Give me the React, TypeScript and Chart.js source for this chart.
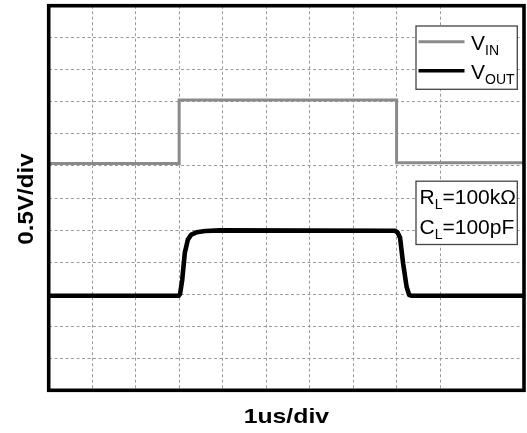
import React, { useEffect, useRef } from 'react';
import { Chart, registerables } from 'chart.js';

Chart.register(...registerables);

// Axis extents in divisions (x: 1us/div, y: 0.5V/div)
const X_MAX = 10.93;
const Y_MAX = 12;

// V_IN trace (divisions)
const vinX = [0, 3.0, 3.0, 8.0, 8.0, X_MAX];
const vinY = [7.08, 7.08, 9.06, 9.06, 7.1, 7.1];

// V_OUT trace (divisions)
const voutX = [0, 2.99, 3.02, 3.07, 3.13, 3.2, 3.28, 3.4, 3.6, 3.94, 7.96, 8.02, 8.08, 8.15, 8.23, 8.29, 8.35, X_MAX];
const voutY = [2.95, 2.95, 3.0, 3.44, 4.29, 4.7, 4.86, 4.93, 4.97, 4.99, 4.98, 4.93, 4.76, 3.96, 3.23, 2.97, 2.95, 2.95];

// Legend entries: [main, subscript]
const legendEntries: [string, string][] = [
  ['V', 'IN'],
  ['V', 'OUT'],
];
const seriesColors = ['#8a8a8a', '#000000'];

// Annotation text: [main, subscript, rest]
const annotationLines: [string, string, string][] = [
  ['R', 'L', '=100kΩ'],
  ['C', 'L', '=100pF'],
];

const xTitle = '1us/div';
const yTitle = '0.5V/div';

const FONT = '"Liberation Sans", Arial, sans-serif';

function drawRich(
  ctx: CanvasRenderingContext2D,
  main: string,
  sub: string,
  rest: string,
  x: number,
  baseline: number,
  size: number,
  subSize: number,
  subDrop: number
) {
  ctx.font = `${size}px ${FONT}`;
  ctx.fillText(main, x, baseline);
  let cx = x + ctx.measureText(main).width;
  ctx.font = `${subSize}px ${FONT}`;
  ctx.fillText(sub, cx, baseline + subDrop);
  cx += ctx.measureText(sub).width;
  if (rest) {
    ctx.font = `${size}px ${FONT}`;
    ctx.fillText(rest, cx, baseline);
  }
}

const overlayPlugin = {
  id: 'overlay',
  afterDatasetsDraw(chart: any) {
    const { ctx, chartArea } = chart;
    const { left, right, top, bottom } = chartArea;
    ctx.save();
    // frame
    ctx.strokeStyle = '#000';
    ctx.lineWidth = 3.6;
    ctx.strokeRect(left, top, right - left, bottom - top);

    // legend box
    const lbx = right - 108;
    const lby = top + 20.3;
    const bw = 101.3;
    const bh = 63.3;
    ctx.fillStyle = '#fff';
    ctx.fillRect(lbx, lby, bw, bh);
    ctx.strokeStyle = '#444';
    ctx.lineWidth = 1.3;
    ctx.strokeRect(lbx, lby, bw, bh);
    legendEntries.forEach((e, i) => {
      const ly = lby + 15.7 + i * 29;
      ctx.strokeStyle = seriesColors[i];
      ctx.lineWidth = i === 0 ? 3 : 3.5;
      ctx.beginPath();
      ctx.moveTo(lbx + 2.5, ly);
      ctx.lineTo(lbx + 48.5, ly);
      ctx.stroke();
      ctx.fillStyle = '#000';
      ctx.textBaseline = 'alphabetic';
      ctx.textAlign = 'left';
      drawRich(ctx, e[0], e[1], '', lbx + 55, ly + 7.8, 21, 14, 5);
    });

    // annotation box
    const abx = right - 108;
    const aby = top + 175.5;
    ctx.fillStyle = '#fff';
    ctx.fillRect(abx, aby, bw, bh);
    ctx.strokeStyle = '#444';
    ctx.lineWidth = 1.3;
    ctx.strokeRect(abx, aby, bw, bh);
    ctx.fillStyle = '#000';
    annotationLines.forEach((l, i) => {
      drawRich(ctx, l[0], l[1], l[2], abx + 3.5, aby + 22.3 + i * 30.7, 21, 14, 5);
    });

    // axis titles
    ctx.fillStyle = '#000';
    ctx.textAlign = 'center';
    ctx.textBaseline = 'alphabetic';
    ctx.save();
    ctx.translate((left + right) / 2, 423);
    ctx.scale(1.18, 1);
    ctx.font = `bold 21px ${FONT}`;
    ctx.fillText(xTitle, 0, 0);
    ctx.restore();

    ctx.save();
    ctx.translate(32.5, (top + bottom) / 2 + 1);
    ctx.rotate(-Math.PI / 2);
    ctx.scale(1.1, 1);
    ctx.font = `bold 22px ${FONT}`;
    ctx.fillText(yTitle, 0, 0);
    ctx.restore();

    ctx.restore();
  },
};

export default function App() {
  const canvasRef = useRef<HTMLCanvasElement | null>(null);

  useEffect(() => {
    if (!canvasRef.current) return;
    const vinData = vinX.map((x, i) => ({ x, y: vinY[i] }));
    const voutData = voutX.map((x, i) => ({ x, y: voutY[i] }));
    const axisCommon = {
      type: 'linear' as const,
      ticks: { display: false, stepSize: 1 },
      grid: { color: '#9a9a9a', lineWidth: 1, drawTicks: false },
      border: { display: false, dash: [3, 2.5] },
    };
    const chart = new Chart(canvasRef.current, {
      type: 'line',
      data: {
        datasets: [
          {
            label: 'VIN',
            data: vinData,
            borderColor: seriesColors[0],
            borderWidth: 3,
            pointRadius: 0,
            tension: 0,
            fill: false,
          },
          {
            label: 'VOUT',
            data: voutData,
            borderColor: seriesColors[1],
            borderWidth: 4.6,
            pointRadius: 0,
            tension: 0,
            fill: false,
            borderJoinStyle: 'round',
          },
        ],
      },
      options: {
        animation: false,
        responsive: true,
        maintainAspectRatio: false,
        layout: { padding: { left: 48.7, top: 5.7, right: 3, bottom: 42.7 } },
        plugins: { legend: { display: false }, tooltip: { enabled: false } },
        scales: {
          x: { ...axisCommon, min: 0, max: X_MAX },
          y: { ...axisCommon, min: 0, max: Y_MAX },
        },
      },
      plugins: [overlayPlugin],
    });
    return () => chart.destroy();
  }, []);

  return (
    <div style={{ position: 'fixed', left: 0, top: 0, width: 527, height: 433, background: '#fff' }}>
      <canvas ref={canvasRef} style={{ display: 'block' }} />
    </div>
  );
}
